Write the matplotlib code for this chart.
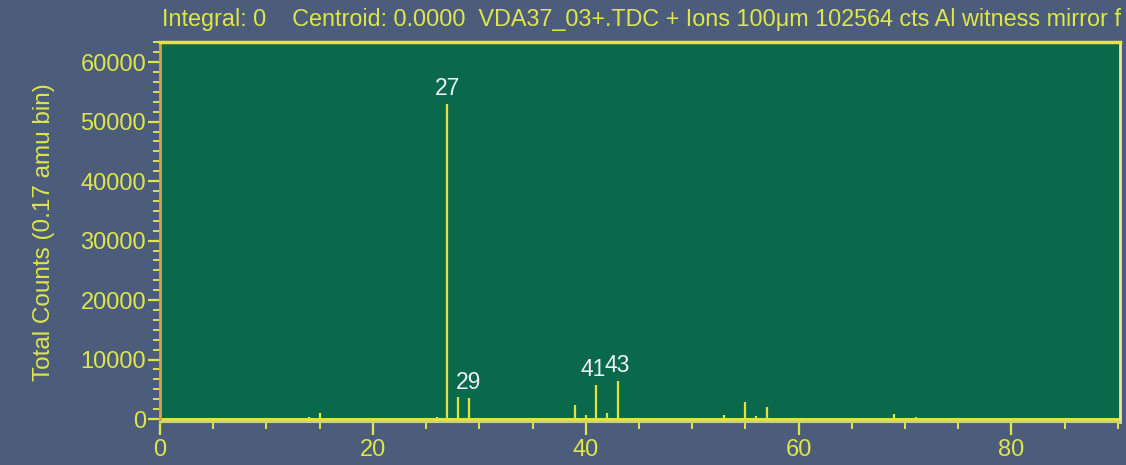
import matplotlib.pyplot as plt
from matplotlib.ticker import MultipleLocator, AutoMinorLocator


# -----------------------------
# Data
# -----------------------------
masses = [14, 15, 26, 27, 28, 29, 39, 40, 41, 42, 43, 53, 55, 56, 57, 67, 69, 71]
counts = [300, 1000, 400, 53000, 3700, 3500, 2400, 600, 5700, 1000, 6400,
          700, 2900, 500, 2000, 250, 850, 300]

peak_labels = ["27", "29", "41", "43"]
peak_masses = [27, 29, 41, 43]
label_shift = [0, 0, -2, 0]   # points, 41 and 43 sit on top of each other

title_text = ("Integral: 0    Centroid: 0.0000  VDA37_03+.TDC + Ions 100\u03bcm "
              "102564 cts Al witness mirror f")
ylabel_text = "Total Counts (0.17 amu bin)"

# -----------------------------
# Colours
# -----------------------------
bg = "#4b5d7a"
plot_bg = "#0a684b"
yellow = "#dfe64a"
line_yellow = "#e4e040"
label_white = "#eef2f0"

plt.rcParams["font.family"] = ["Liberation Sans", "DejaVu Sans"]

fig = plt.figure(figsize=(11.26, 4.65), dpi=100, facecolor=bg)
ax = fig.add_axes([0.1421, 0.0925, 0.8526, 0.8172], facecolor=plot_bg)

ax.vlines(masses, 0, counts, color=line_yellow, linewidth=1.6)
ax.axhline(0, color=line_yellow, linewidth=2.2)

for lab, m, dx in zip(peak_labels, peak_masses, label_shift):
    h = counts[masses.index(m)]
    ax.annotate(lab, (m, h), xytext=(dx, 3), textcoords="offset points",
                ha="center", va="bottom", color=label_white, fontsize=16.5)

ax.set_xlim(0, 90.2)
ax.set_ylim(-500, 63400)

ax.xaxis.set_major_locator(MultipleLocator(20))
ax.xaxis.set_minor_locator(MultipleLocator(5))
ax.yaxis.set_major_locator(MultipleLocator(10000))
ax.yaxis.set_minor_locator(AutoMinorLocator(6))

ax.tick_params(axis="both", which="major", colors=yellow, labelcolor=yellow,
               labelsize=17, length=9, width=1.6, direction="out")
ax.tick_params(axis="both", which="minor", colors=yellow, length=5, width=1.4,
               direction="out")
ax.tick_params(axis="x", pad=3)
ax.tick_params(axis="y", pad=1)

ax.spines["top"].set_color("#e8e832")
ax.spines["top"].set_linewidth(2.5)
ax.spines["left"].set_color("#d2a448")
ax.spines["left"].set_linewidth(2)
ax.spines["right"].set_color("#e6ea9a")
ax.spines["right"].set_linewidth(2)
ax.spines["bottom"].set_color("#c8cca0")
ax.spines["bottom"].set_linewidth(1.5)

ax.set_ylabel(ylabel_text, color=yellow, fontsize=17.5, labelpad=18)

fig.text(0.1439, 0.958, title_text, color=yellow, fontsize=16.8,
         ha="left", va="center")

fig.savefig("out.png", dpi=100, facecolor=bg)
